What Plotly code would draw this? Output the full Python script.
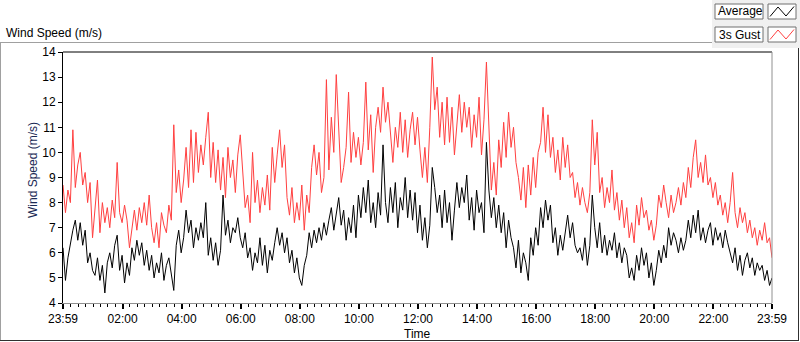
import plotly.graph_objects as go
import pandas as pd

# 5-minute samples from 23:59 to 23:59 the next day
avg_speed = [
    6.2, 4.9, 5.8, 6.4, 6.9, 7.3, 6.5, 7.2, 6.3, 6.9,
    5.6, 6.0, 5.3, 5.1, 5.8, 4.9, 5.5, 4.4, 5.6, 6.0,
    5.4, 6.3, 6.7, 5.3, 5.9, 4.8, 5.6, 5.1, 6.2, 5.7,
    6.5, 5.9, 6.4, 5.5, 6.1, 5.3, 5.9, 5.0, 5.6, 5.2,
    6.0, 4.9, 5.5, 5.8, 5.2, 4.5, 6.3, 6.9, 6.0, 6.6,
    7.7, 6.8, 7.3, 6.2, 7.0, 6.5, 7.2, 6.6, 8.0, 5.9,
    6.6, 5.7, 6.4, 5.5, 6.1, 8.3, 6.7, 7.3, 6.4, 7.0,
    6.8, 7.4, 6.6, 6.2, 6.8, 5.8, 6.2, 5.3, 6.0, 5.6,
    6.6, 5.5, 6.3, 5.2, 6.1, 5.7, 6.4, 7.0, 6.3, 6.8,
    6.0, 6.6, 5.6, 6.1, 5.2, 5.8, 5.0, 4.7, 5.5, 5.9,
    6.8, 6.2, 6.9, 6.4, 7.0, 6.5, 7.2, 6.7, 7.3, 7.8,
    6.9, 7.6, 8.2, 7.1, 7.7, 6.5, 7.4, 6.8, 7.9, 6.6,
    8.3, 7.4, 8.6, 7.6, 8.9, 7.2, 8.0, 7.0, 8.4, 7.5,
    10.3, 8.0, 7.2, 8.6, 7.6, 8.8, 7.0, 8.2, 7.7, 9.0,
    7.4, 8.5, 7.3, 8.4, 6.8, 7.9, 6.5, 7.4, 6.2, 7.1,
    9.4, 8.6, 7.6, 8.3, 7.0, 8.5, 7.2, 8.0, 6.5, 7.7,
    8.8, 7.8, 8.6, 8.0, 9.1, 7.3, 8.2, 6.9, 8.5, 7.6,
    8.0, 6.8, 10.4, 8.5, 7.4, 8.2, 7.0, 7.9, 6.8, 7.6,
    6.2, 7.3, 6.6, 6.2, 5.4, 6.5, 5.2, 6.0, 5.6, 4.9,
    6.6, 5.9, 7.0, 6.3, 7.8, 7.0, 8.1, 7.3, 7.9, 6.4,
    7.0, 5.9, 6.7, 6.1, 6.9, 7.5, 6.6, 7.2, 6.3, 6.0,
    6.2, 5.7, 6.6, 5.5, 6.3, 8.3, 7.0, 6.2, 7.2, 6.0,
    6.7, 5.9, 6.5, 6.1, 6.8, 5.8, 6.4, 5.6, 6.2, 5.9,
    5.0, 5.4, 4.9, 5.9, 5.3, 6.2, 5.5, 6.0, 5.0, 5.6,
    4.7, 5.3, 6.1, 5.6, 6.3, 5.8, 7.0, 6.3, 6.8, 6.5,
    6.0, 6.6, 6.1, 6.5, 7.3, 6.6, 7.5, 6.8, 7.7, 6.5,
    7.0, 6.4, 6.9, 7.2, 6.3, 7.0, 6.5, 6.8, 6.2, 6.9,
    6.4, 6.0, 5.6, 6.2, 5.3, 5.9, 5.1, 5.7, 6.0, 5.4,
    5.8, 5.1, 5.6, 5.3, 5.5, 4.9, 5.3, 4.7, 5.0,
]

gust_speed = [
    8.7, 7.6, 8.5, 8.0, 10.9, 8.6, 9.5, 10.0, 8.7, 9.2,
    8.0, 8.8, 6.6, 7.6, 8.9, 6.8, 8.0, 7.2, 7.8, 7.0,
    8.1, 7.4, 9.6, 7.6, 7.2, 7.9, 7.3, 6.2, 7.0, 7.7,
    6.9, 7.8, 7.2, 8.0, 7.1, 8.3, 7.0, 6.4, 7.2, 6.2,
    7.6, 7.1, 6.8, 7.9, 7.3, 11.1, 8.4, 9.3, 8.0, 8.9,
    10.2, 8.6, 10.9, 8.8, 10.8, 9.2, 10.3, 9.5, 10.6, 11.6,
    9.0, 10.4, 8.8, 10.1, 8.5, 9.8, 8.2, 10.2, 9.0, 9.7,
    8.4, 9.9, 10.7, 9.4, 7.8, 8.3, 7.2, 10.0, 8.0, 8.9,
    7.6, 8.6, 7.9, 9.1, 7.7, 10.2, 8.8, 9.9, 10.9, 9.4,
    10.3, 8.2, 7.5, 8.6, 7.2, 8.0, 7.3, 8.7, 6.9, 8.3,
    7.6, 9.4, 10.3, 9.1, 10.0, 8.4, 9.0, 12.9, 9.3, 11.4,
    10.0, 13.1, 10.6, 8.8, 9.4, 10.2, 12.4, 9.6, 10.8, 9.8,
    10.6, 9.5, 10.4, 12.8, 10.1, 11.5, 9.2, 11.0, 11.8, 10.8,
    12.6, 11.2, 12.0, 10.6, 9.6, 11.0, 10.2, 11.6, 10.0, 11.3,
    9.8, 10.9, 11.6, 10.3, 11.4, 10.1, 9.0, 10.2, 8.8, 11.0,
    13.8, 11.7, 12.6, 10.6, 12.0, 10.3, 12.2, 10.4, 11.8, 9.9,
    11.3, 12.3, 10.8, 12.0, 11.0, 11.8, 10.2, 11.5, 10.6, 12.2,
    9.9, 11.3, 13.6, 11.0, 8.5, 9.6, 8.3, 10.5, 9.4, 11.2,
    9.8, 11.6, 10.2, 11.0, 9.6, 9.0, 8.1, 9.4, 7.8, 9.5,
    8.3, 9.8, 8.6, 10.0, 10.4, 11.8, 10.0, 11.5, 9.8, 10.6,
    9.2, 10.1, 8.9, 10.6, 9.4, 10.3, 9.0, 9.2, 8.2, 8.8,
    7.9, 8.6, 8.0, 7.6, 8.4, 11.3, 9.5, 10.8, 8.4, 9.0,
    7.8, 8.6, 8.0, 9.3, 7.7, 8.4, 7.3, 8.1, 7.0, 7.8,
    6.6, 7.2, 6.4, 7.9, 7.1, 8.2, 7.4, 7.7, 6.9, 7.3,
    6.5, 7.1, 8.3, 7.8, 8.7, 8.0, 7.4, 8.3, 7.6, 8.0,
    8.6, 7.9, 8.8, 8.2, 9.4, 8.6, 9.8, 10.5, 9.0, 9.6,
    8.8, 9.9, 8.7, 9.0, 8.2, 8.8, 7.9, 8.3, 7.5, 8.0,
    7.2, 8.0, 9.2, 7.6, 7.0, 7.8, 7.2, 7.6, 6.8, 7.3,
    6.6, 7.0, 6.3, 6.9, 6.5, 7.2, 6.4, 6.6, 5.8,
]

x_tick_labels = ["23:59", "02:00", "04:00", "06:00", "08:00", "10:00", "12:00",
                 "14:00", "16:00", "18:00", "20:00", "22:00", "23:59"]
y_tick_values = [4, 5, 6, 7, 8, 9, 10, 11, 12, 13, 14]

start = pd.Timestamp("2024-01-01 23:59")
end = start + pd.Timedelta(hours=24)
times = pd.date_range(start, periods=len(avg_speed), freq="5min")

tickvals = []
for i, lab in enumerate(x_tick_labels):
    if i == 0:
        tickvals.append(start)
    elif i == len(x_tick_labels) - 1:
        tickvals.append(end)
    else:
        tickvals.append(pd.Timestamp("2024-01-02 " + lab))

FONT = "Liberation Sans"

fig = go.Figure()
fig.add_trace(go.Scatter(x=times, y=gust_speed, mode="lines", name="3s Gust",
                         line=dict(color="#ff4040", width=1)))
fig.add_trace(go.Scatter(x=times, y=avg_speed, mode="lines", name="Average",
                         line=dict(color="#000000", width=1)))

# plot area in pixels
L, R, T, B = 63, 772, 52, 303
W, H = 800, 342


def px(x):
    return (x - L) / (R - L)


def py(y):
    return (B - y) / (B - T)


shapes = []


def line(x0, y0, x1, y1, color, width=1):
    shapes.append(dict(type="line", xref="paper", yref="paper",
                       x0=px(x0), y0=py(y0), x1=px(x1), y1=py(y1),
                       line=dict(color=color, width=width), layer="above"))


def rect(x0, y0, x1, y1, fill, color=None):
    shapes.append(dict(type="rect", xref="paper", yref="paper",
                       x0=px(x0), y0=py(y0), x1=px(x1), y1=py(y1),
                       fillcolor=fill,
                       line=dict(color=color or fill, width=1 if color else 0),
                       layer="below"))


# outer frame
line(0, 42.5, 712, 42.5, "#a0a0a0")
line(0.5, 42.5, 0.5, 341, "#a0a0a0")
line(0, 340.5, 799, 340.5, "#303030")
line(798.5, 48, 798.5, 341, "#303030")
# legend panel
rect(712, 0, 800, 48, "#f0f0f0")
rect(715, 4, 763, 19, "#ffffff", "#707070")
rect(768, 4, 796, 19, "#ffffff", "#707070")
rect(715, 27, 763, 42, "#ffffff", "#707070")
rect(768, 27, 796, 42, "#ffffff", "#707070")


def zig(y_off, color):
    pts = [(770, 16.5), (778, 7), (786, 16), (794, 6.5)]
    path = "M " + " L ".join(f"{px(a)},{py(b + y_off)}" for a, b in pts)
    shapes.append(dict(type="path", xref="paper", yref="paper", path=path,
                       line=dict(color=color, width=1), layer="above"))


zig(0, "#000000")
zig(23, "#ff4040")

# plot frame: top black, right gray
line(L, T, R, T, "#000000")
line(R, T, R, B, "#909090")

annotations = [
    dict(text="Wind Speed (m/s)", xref="paper", yref="paper", x=px(4), y=py(33),
         xanchor="left", yanchor="middle", showarrow=False,
         font=dict(family=FONT, size=12, color="#000000")),
    dict(text="Average", xref="paper", yref="paper", x=px(716), y=py(11.5),
         xanchor="left", yanchor="middle", showarrow=False,
         font=dict(family=FONT, size=12, color="#000000")),
    dict(text="3s Gust", xref="paper", yref="paper", x=px(717), y=py(34.5),
         xanchor="left", yanchor="middle", showarrow=False,
         font=dict(family=FONT, size=12, color="#000000")),
    dict(text="Wind Speed (m/s)", xref="paper", yref="paper", x=px(33), y=py(170),
         xanchor="center", yanchor="middle", showarrow=False, textangle=-90,
         font=dict(family=FONT, size=12, color="#1a2a55")),
    dict(text="Time", xref="paper", yref="paper", x=px(417), y=py(334),
         xanchor="center", yanchor="middle", showarrow=False,
         font=dict(family=FONT, size=12, color="#000000")),
]

fig.update_layout(
    width=W, height=H,
    margin=dict(l=L, r=W - R, t=T, b=H - B, pad=0),
    paper_bgcolor="#ffffff", plot_bgcolor="#ffffff",
    showlegend=False,
    shapes=shapes, annotations=annotations,
    font=dict(family=FONT, size=12, color="#000000"),
    xaxis=dict(
        type="date", range=[start, end], tickmode="array",
        tickvals=tickvals, ticktext=x_tick_labels,
        showgrid=False, zeroline=False,
        showline=True, linecolor="#909090", linewidth=1,
        ticks="outside", ticklen=5, tickwidth=2, tickcolor="#000000",
        tickfont=dict(family=FONT, size=12, color="#000000"),
        minor=dict(ticks="outside", ticklen=3, tickwidth=1, tickcolor="#000000",
                   tickmode="linear", tick0="2024-01-02 00:00",
                   dtick=15 * 60 * 1000, showgrid=False),
    ),
    yaxis=dict(
        range=[4, 14], tickmode="array", tickvals=y_tick_values,
        showgrid=False, zeroline=False,
        showline=True, linecolor="#000000", linewidth=1,
        ticks="outside", ticklen=4, tickwidth=1, tickcolor="#000000",
        tickfont=dict(family=FONT, size=12, color="#000000"),
    ),
)

fig.write_html(
    "out.html",
    config={"displayModeBar": False},
    post_script="document.body.style.margin='0';document.body.style.overflow='hidden';",
)
